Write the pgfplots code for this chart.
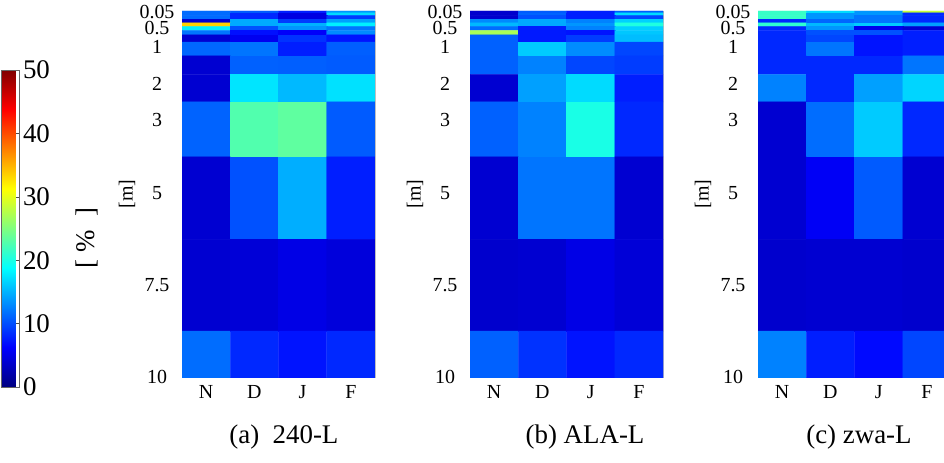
\documentclass[border=0pt]{standalone}
\usepackage{pgfplots}
\pgfplotsset{compat=1.18}
\usepackage{pgfplotstable}
\usepackage{fontspec}
\setmainfont{Liberation Serif}

% depth rows: 0.05 0.1 0.2 0.3 0.4 0.5 0.6 0.75 1 1.5 2 3 5 7.5 10 ; columns N D J F -> x=1..4
\pgfplotstableread{
x y c
1 0.05 11.5
2 0.05 10.7
3 0.05 7.7
4 0.05 13.6
1 0.1 11.5
2 0.1 8.2
3 0.1 4.8
4 0.1 17.0
1 0.2 11.5
2 0.2 8.2
3 0.2 4.8
4 0.2 9.2
1 0.3 4.0
2 0.3 14.6
3 0.3 9.2
4 0.3 14.1
1 0.4 33.5
2 0.4 14.6
3 0.4 15.0
4 0.4 18.0
1 0.5 18.0
2 0.5 10.2
3 0.5 13.6
4 0.5 12.0
1 0.6 12.0
2 0.6 7.0
3 0.6 6.0
4 0.6 13.0
1 0.75 4.0
2 0.75 5.5
3 0.75 8.7
4 0.75 7.2
1 1 11.3
2 1 12.0
3 1 7.7
4 1 10.9
1 1.5 4.0
2 1.5 11.0
3 1.5 10.9
4 1.5 10.7
1 2 4.0
2 2 17.5
3 2 15.3
4 2 17.3
1 3 11.1
2 3 22.7
3 3 23.4
4 3 10.7
1 5 4.0
2 5 10.2
3 5 14.8
4 5 7.7
1 7.5 4.0
2 7.5 4.3
3 7.5 5.0
4 7.5 4.5
1 10 11.6
2 10 8.2
3 10 7.2
4 10 8.2
}\dataA

\pgfplotstableread{
x y c
1 0.05 3.8
2 0.05 10.7
3 0.05 7.7
4 0.05 10.7
1 0.1 3.8
2 0.1 11.1
3 0.1 7.7
4 0.1 17.0
1 0.2 3.8
2 0.2 10.2
3 0.2 7.7
4 0.2 9.7
1 0.3 13.0
2 0.3 14.6
3 0.3 12.6
4 0.3 16.5
1 0.4 15.3
2 0.4 14.6
3 0.4 13.6
4 0.4 20.2
1 0.5 11.6
2 0.5 7.7
3 0.5 12.6
4 0.5 16.5
1 0.6 27.0
2 0.6 7.5
3 0.6 7.2
4 0.6 16.0
1 0.75 11.0
2 0.75 7.5
3 0.75 9.2
4 0.75 15.5
1 1 11.0
2 1 16.2
3 1 13.1
4 1 9.7
1 1.5 11.0
2 1.5 12.6
3 1.5 9.7
4 1.5 9.2
1 2 4.0
2 2 14.1
3 2 17.0
4 2 7.7
1 3 11.0
2 3 12.6
3 3 20.0
4 3 8.2
1 5 4.0
2 5 12.0
3 5 12.0
4 5 4.0
1 7.5 3.8
2 7.5 4.0
3 7.5 5.0
4 7.5 4.3
1 10 11.0
2 10 8.7
3 10 7.2
4 10 8.2
}\dataB

\pgfplotstableread{
x y c
1 0.05 21.5
2 0.05 17.0
3 0.05 13.6
4 0.05 28.5
1 0.1 21.5
2 0.1 13.6
3 0.1 13.6
4 0.1 8.2
1 0.2 21.5
2 0.2 13.6
3 0.2 12.0
4 0.2 8.2
1 0.3 8.2
2 0.3 11.3
3 0.3 12.0
4 0.3 8.2
1 0.4 21.0
2 0.4 15.3
3 0.4 16.2
4 0.4 14.1
1 0.5 8.2
2 0.5 13.6
3 0.5 5.3
4 0.5 4.0
1 0.6 8.2
2 0.6 10.2
3 0.6 10.2
4 0.6 7.7
1 0.75 8.2
2 0.75 9.7
3 0.75 7.2
4 0.75 7.7
1 1 8.2
2 1 12.0
3 1 7.2
4 1 7.7
1 1.5 8.2
2 1.5 8.2
3 1.5 8.2
4 1.5 12.0
1 2 12.6
2 2 8.2
3 2 14.1
4 2 16.7
1 3 4.0
2 3 11.6
3 3 16.2
4 3 8.2
1 5 4.0
2 5 5.8
3 5 10.7
4 5 4.0
1 7.5 3.8
2 7.5 4.0
3 7.5 4.0
4 7.5 3.8
1 10 12.6
2 10 7.7
3 10 6.7
4 10 9.7
}\dataC

\pgfplotsset{
  /pgf/number format/assume math mode=true,
  panel/.style={
    scale only axis, width=193bp, height=366bp,
    xmin=0.5, xmax=4.5, ymin=0.025, ymax=10, y dir=reverse,
    xtick={1,2,3,4}, xticklabels={N,D,J,F},
    ytick={0.05,0.5,1,2,3,5,7.5,10},
    yticklabels={0.05,0.5,1,2,3,5,7.5,10},
    tick align=inside, major tick length=3bp,
    every tick/.style={black!55, line width=0.4bp},
    axis line style={black!25, line width=0.4bp},
    colormap/jet, point meta min=0, point meta max=50,
    tick label style={font=\fontsize{20}{20}\selectfont},
    yticklabel style={anchor=center, xshift=-25bp},
    xticklabel style={yshift=-5bp},
    ylabel={[m]},
    ylabel style={font=\fontsize{20}{20}\selectfont, at={(axis description cs:-0.285,0.5)}, anchor=center},
    xlabel style={font=\fontsize{27}{27}\selectfont, anchor=center},
  },
}

\begin{document}
\begin{tikzpicture}
\begin{axis}[panel, at={(182bp,86bp)}, anchor=south west,
  xlabel={(a)\ \ 240-L},
  xlabel style={at={(axis description cs:0.528,-0.164)}},
  colorbar left,
  colorbar style={
    at={(parent axis.south west)}, anchor=south west,
    xshift=-172bp, yshift=-10bp,
    scale only axis, width=18bp, height=317bp,
    ytick={0,10,20,30,40,50},
    ytick pos=right, yticklabel pos=right,
    tick align=inside, major tick length=3bp,
    every tick/.style={black!70, line width=0.4bp},
    axis line style={black!60, line width=0.4bp},
    tick label style={font=\fontsize{27}{27}\selectfont},
    ylabel={[\ \%\ \ ]},
    ylabel style={font=\fontsize{27}{27}\selectfont, at={(axis description cs:4.75,0.47)}, anchor=center},
  },
]
\addplot[matrix plot*, mesh/cols=4, point meta=explicit] table[meta=c] {\dataA};
\end{axis}

\begin{axis}[panel, at={(470bp,86bp)}, anchor=south west,
  xlabel={(b) ALA-L},
  xlabel style={at={(axis description cs:0.596,-0.164)}},
]
\addplot[matrix plot*, mesh/cols=4, point meta=explicit] table[meta=c] {\dataB};
\end{axis}

\begin{axis}[panel, at={(758bp,86bp)}, anchor=south west,
  xlabel={(c) zwa-L},
  xlabel style={at={(axis description cs:0.523,-0.164)}},
]
\addplot[matrix plot*, mesh/cols=4, point meta=explicit] table[meta=c] {\dataC};
\end{axis}

\pgfresetboundingbox
\path[use as bounding box] (0,0) rectangle (944bp,463bp);
\end{tikzpicture}
\end{document}
